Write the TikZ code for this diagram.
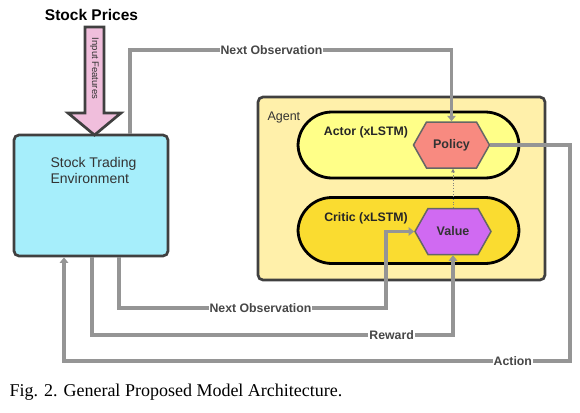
\documentclass[tikz,border=0pt]{standalone}
\usepackage{fontspec}
\setmainfont{Liberation Sans}
\newfontfamily\capfont{Liberation Serif}
\usepackage{tikz}
\usetikzlibrary{arrows.meta, shapes.symbols}

\definecolor{envfill}{HTML}{A6EEFB}
\definecolor{agentfill}{HTML}{FFF0AA}
\definecolor{actorfill}{HTML}{FFFF88}
\definecolor{criticfill}{HTML}{FADC30}
\definecolor{policyfill}{HTML}{F88A80}
\definecolor{valuefill}{HTML}{D06AF2}
\definecolor{inputfill}{HTML}{F0BEDC}
\definecolor{edgegray}{HTML}{959595}
\definecolor{boxline}{HTML}{404040}
\definecolor{textgray}{HTML}{333333}

\begin{document}
\begin{tikzpicture}[x=1pt, y=-1pt,
  envbox/.style={draw=boxline, line width=2.7pt, rounded corners=5pt, fill=envfill,
                 minimum width=154pt, minimum height=121pt},
  agentbox/.style={draw=boxline, line width=2.7pt, rounded corners=5pt, fill=agentfill,
                   minimum width=287pt, minimum height=183pt},
  pill/.style={draw=black, line width=2.8pt, rounded corners=34pt,
               minimum width=221pt, minimum height=66pt},
  hexa/.style={signal, signal to=east and west, signal pointer angle=121,
               draw=gray!80!black, line width=1.5pt, minimum width=76pt, minimum height=46pt,
               font=\bfseries\fontsize{12.5}{14}\selectfont, text=textgray},
  title/.style={font=\bfseries\fontsize{12.3}{14}\selectfont, text=black!85},
  lbl/.style={fill=white, inner sep=1pt, font=\bfseries\fontsize{12.3}{13}\selectfont, text=textgray!90!white},
  bigarr/.style={draw=boxline, line width=2.7pt, fill=inputfill, line join=miter},
  arr/.style={draw=edgegray, line width=3.1pt, -{Triangle[length=5.5pt, width=8.5pt]}},
  dotarr/.style={draw=gray, line width=0.7pt, dotted, -{Triangle[length=3.5pt, width=3.5pt]}}]
\useasboundingbox (0,0) rectangle (580,412);
\node[envbox] (env) at (91,195.5) {};
\node[anchor=west, align=left, font=\fontsize{14}{15.5}\selectfont, text=textgray] (envname) at (47,170.5)
  {Stock Trading\\Environment};
\node[font=\bfseries\fontsize{15.5}{17}\selectfont] (prices) at (91.5,15) {Stock Prices};
\draw[bigarr] (85,27) -- (104,27) -- (104,113) -- (121,113) -- (94.5,135) -- (68,113) -- (85,113) -- cycle;
\node[rotate=-90, font=\fontsize{9.5}{10}\selectfont, text=textgray] (feat) at (94.5,68.5) {Input Features};
\node[agentbox] (agent) at (401.5,188.5) {};
\node[anchor=west, font=\fontsize{12.5}{14}\selectfont, text=textgray] (agentname) at (264,117) {Agent};
\node[pill, fill=actorfill] (actor) at (408.5,145) {};
\node[pill, fill=criticfill] (critic) at (408.5,230.5) {};
\node[title] (actorname) at (366,132) {Actor (xLSTM)};
\node[title] (criticname) at (366,218) {Critic (xLSTM)};
\node[hexa, fill=policyfill] (pol) at (451.5,145) {Policy};
\node[hexa, fill=valuefill] (val) at (453,231.5) {Value};
\coordinate (nobs) at (0,50);
\coordinate (obsL) at (119,308);
\coordinate (obsR) at (386,308);
\coordinate (rwdL) at (92,335);
\coordinate (actR) at (570,361);
\coordinate (actL) at (64,361);
\draw[arr] ([xshift=39pt]env.north) |- node[lbl, pos=0.72] {Next Observation} (pol.north |- nobs) -- (pol.north);
\draw[dotarr] (val.north) -- (val.north |- pol.south);
\draw[arr] (pol.east) -| (actR) -- node[lbl, pos=0.113] {Action} (actL) -- (actL |- env.south);
\draw[arr] (obsL |- env.south) -- (obsL) -- node[lbl, pos=0.53] {Next Observation} (obsR) |- (val.west);
\draw[arr] (rwdL |- env.south) -- (rwdL) -| node[lbl, pos=0.415] {Reward} (val.south);
\node[anchor=west, font=\capfont\fontsize{18}{20}\selectfont] (caption) at (6,392)
  {Fig. 2. General Proposed Model Architecture.};
\end{tikzpicture}
\end{document}
